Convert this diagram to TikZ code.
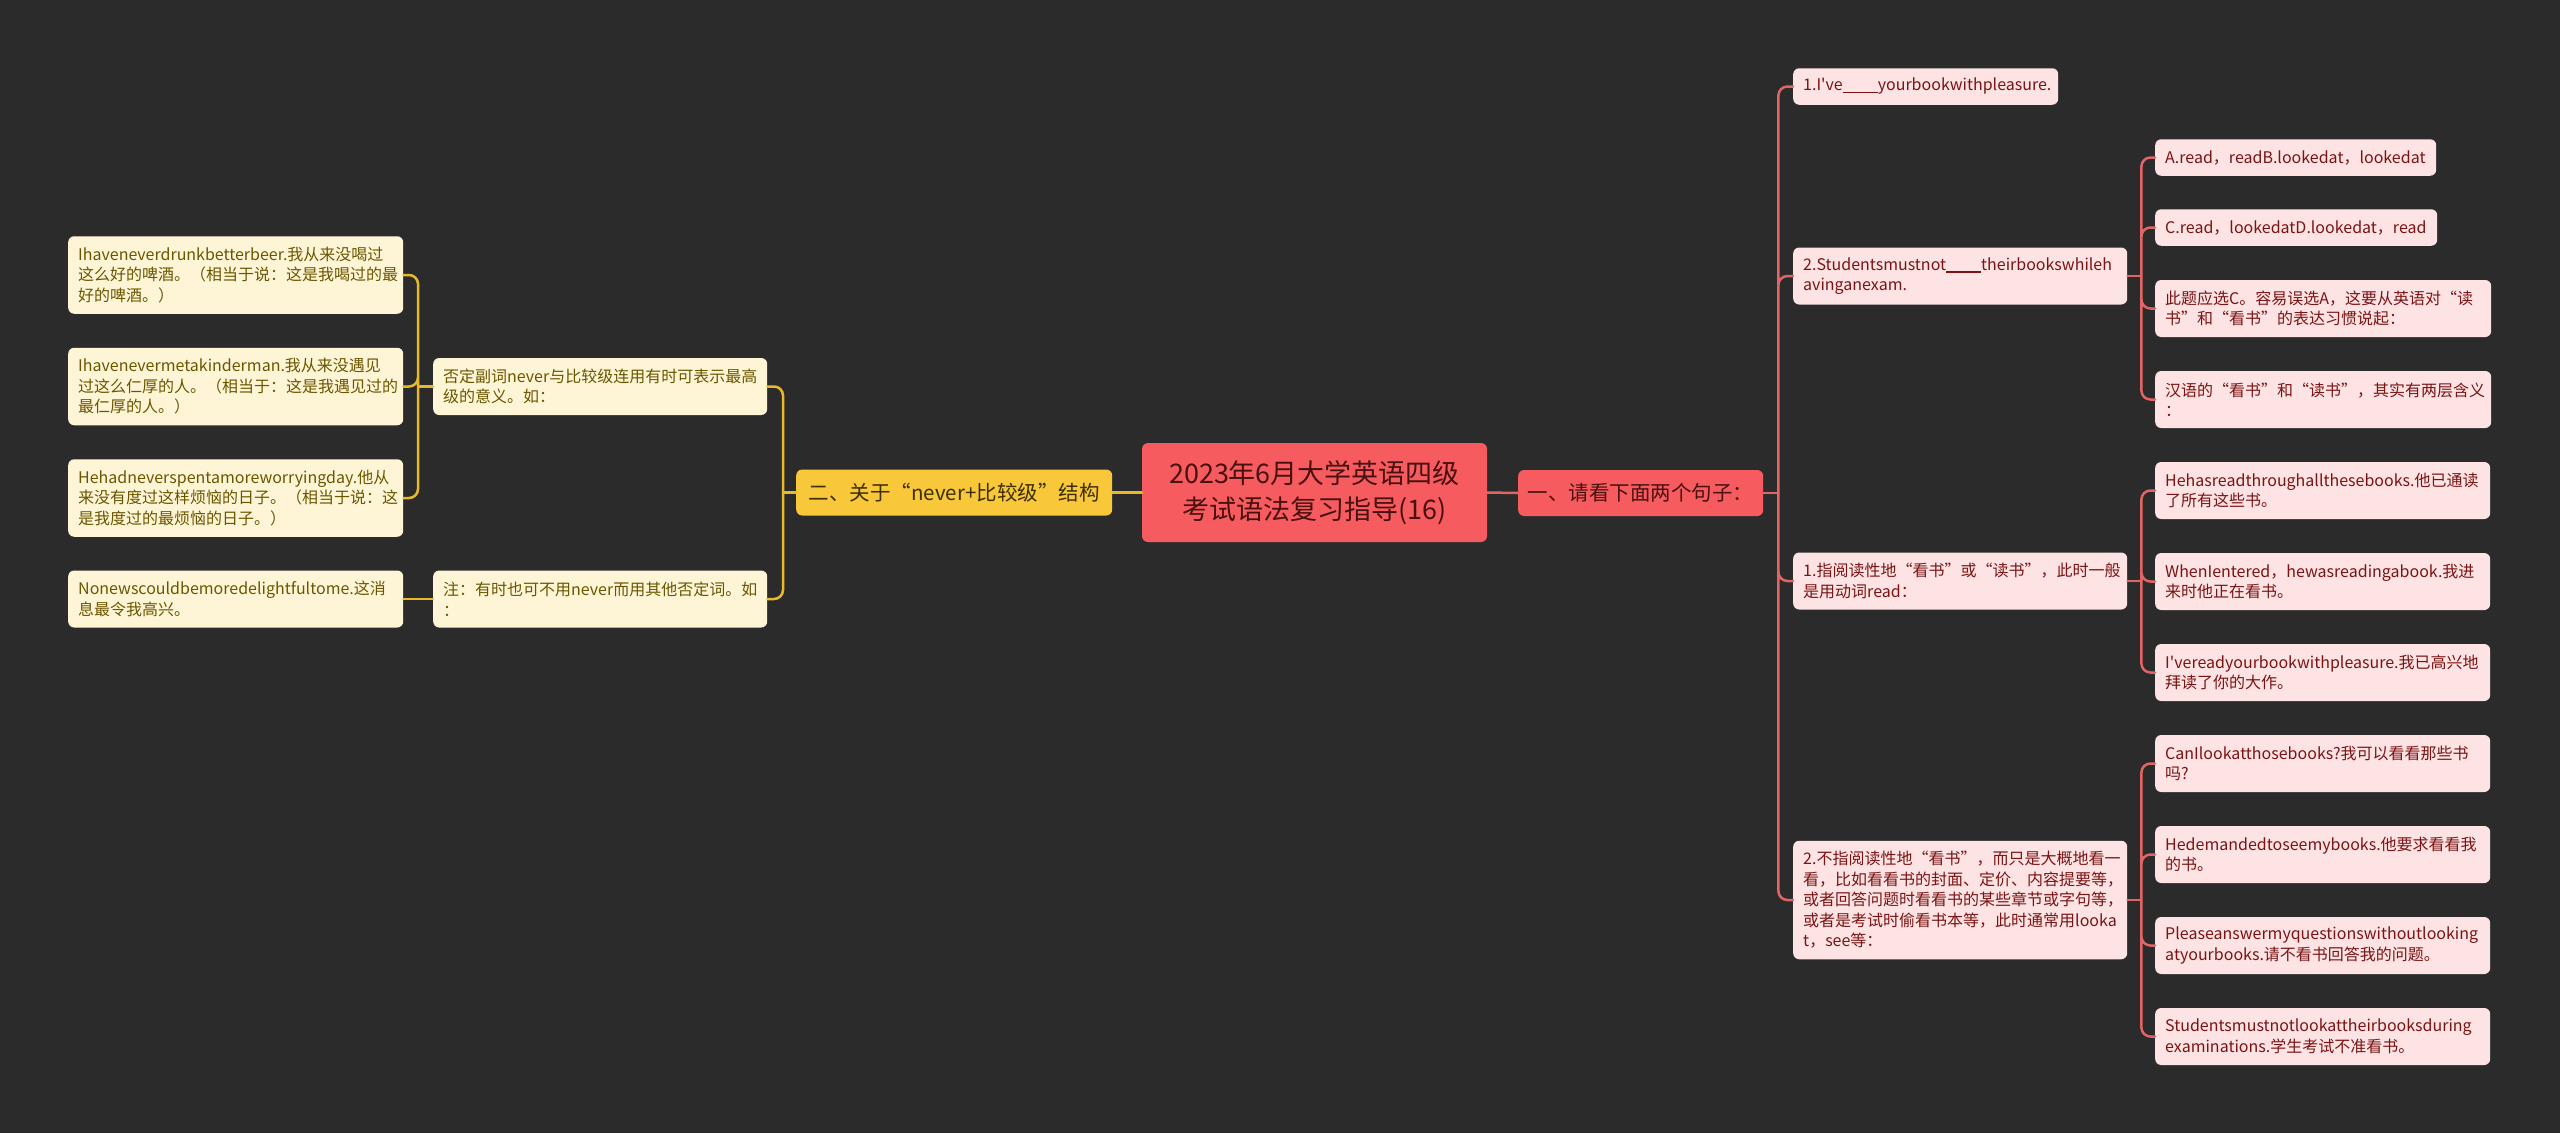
\documentclass[tikz,border=0pt]{standalone}
\usepackage{fontspec}
\setmainfont{Noto Sans CJK SC}[Ligatures=TeXOff]
\definecolor{bgdark}{HTML}{2B2B2B}
\definecolor{rootred}{HTML}{F65C5F}
\definecolor{rootink}{HTML}{4A1010}
\definecolor{pinkfill}{HTML}{FDE3E3}
\definecolor{pinkink}{HTML}{7A1414}
\definecolor{goldfill}{HTML}{F9C73A}
\definecolor{goldink}{HTML}{3B2F00}
\definecolor{creamfill}{HTML}{FEF5D6}
\definecolor{creamink}{HTML}{6B5600}
\definecolor{redline}{HTML}{E26465}
\definecolor{goldline}{HTML}{E8B92C}
\newcommand{\blank}{\rule[-2.5pt]{35pt}{1.2pt}}
\begin{document}
\begin{tikzpicture}[x=1pt, y=-1pt, line join=round, line cap=round,
	box/.style={rounded corners=6pt, anchor=west, align=left, inner xsep=10pt, inner ysep=3pt, font=\fontsize{16}{20.5}\selectfont},
	rows/.style={minimum height=#1*20.5pt+16pt},
	pinkbox/.style={box, fill=pinkfill, text=pinkink},
	creambox/.style={box, fill=creamfill, text=creamink},
	topic/.style={rounded corners=6pt, anchor=west, align=center, minimum height=46pt, font=\fontsize{20.5}{26}\selectfont},
	redlink/.style={draw=redline, line width=2.5pt, rounded corners=9pt},
	goldlink/.style={draw=goldline, line width=2.5pt, rounded corners=9pt}]
	\def\colA{68} \def\colB{433} \def\colC{1793} \def\colD{2155} % left edges
	\fill[bgdark] (0,0) rectangle (2560,1133);
	% centre
	\node[rounded corners=6pt, fill=rootred, text=rootink, align=center, minimum width=345pt, minimum height=99pt, font=\fontsize{27}{36}\selectfont] (root) at (1314.5,492.5) {2023年6月大学英语四级\\考试语法复习指导(16)};
	\node[topic, fill=rootred, text=rootink, minimum width=245pt] (one) at (1518,493) {一、请看下面两个句子：};
	\node[topic, fill=goldfill, text=goldink, minimum width=316pt] (two) at (796,492.5) {二、关于“never+比较级”结构};
	% right side
	\node[pinkbox, rows=1, text width=245pt] (q1) at (\colC,86.5) {1.I've\blank yourbookwithpleasure.};
	\node[pinkbox, rows=2, text width=314pt] (q2) at (\colC,276) {2.Studentsmustnot\blank theirbookswhileh\\avinganexam.};
	\node[pinkbox, rows=2, text width=314pt] (q3) at (\colC,581) {1.指阅读性地“看书”或“读书”，此时一般\\是用动词read：};
	\node[pinkbox, rows=5, text width=314pt] (q4) at (\colC,900) {2.不指阅读性地“看书”，而只是大概地看一\\看，比如看看书的封面、定价、内容提要等，\\或者回答问题时看看书的某些章节或字句等，\\或者是考试时偷看书本等，此时通常用looka\\t，see等：};
	\node[pinkbox, rows=1, text width=261pt] (ra) at (\colD,157.5) {A.read，readB.lookedat，lookedat};
	\node[pinkbox, rows=1, text width=262pt] (rb) at (\colD,227.5) {C.read，lookedatD.lookedat，read};
	\node[pinkbox, rows=2, text width=316pt] (rc) at (\colD,308.5) {此题应选C。容易误选A，这要从英语对“读\\书”和“看书”的表达习惯说起：};
	\node[pinkbox, rows=2, text width=316pt] (rd) at (\colD,399.5) {汉语的“看书”和“读书”，其实有两层含义\\：};
	\node[pinkbox, rows=2, text width=315pt] (re) at (\colD,490.5) {Hehasreadthroughallthesebooks.他已通读\\了所有这些书。};
	\node[pinkbox, rows=2, text width=315pt] (rf) at (\colD,581.5) {WhenIentered，hewasreadingabook.我进\\来时他正在看书。};
	\node[pinkbox, rows=2, text width=315pt] (rg) at (\colD,672.5) {I'vereadyourbookwithpleasure.我已高兴地\\拜读了你的大作。};
	\node[pinkbox, rows=2, text width=315pt] (rh) at (\colD,763.5) {CanIlookatthosebooks?我可以看看那些书\\吗?};
	\node[pinkbox, rows=2, text width=315pt] (ri) at (\colD,854.5) {Hedemandedtoseemybooks.他要求看看我\\的书。};
	\node[pinkbox, rows=2, text width=315pt] (rj) at (\colD,945.5) {Pleaseanswermyquestionswithoutlooking\\atyourbooks.请不看书回答我的问题。};
	\node[pinkbox, rows=2, text width=315pt] (rk) at (\colD,1036.5) {Studentsmustnotlookattheirbooksduring\\examinations.学生考试不准看书。};
	% left side
	\node[creambox, rows=2, text width=314pt] (p1) at (\colB,386.5) {否定副词never与比较级连用有时可表示最高\\级的意义。如：};
	\node[creambox, rows=2, text width=314pt] (p2) at (\colB,599) {注：有时也可不用never而用其他否定词。如\\：};
	\node[creambox, rows=3, text width=315pt] (s1) at (\colA,275) {Ihaveneverdrunkbetterbeer.我从来没喝过\\这么好的啤酒。（相当于说：这是我喝过的最\\好的啤酒。）};
	\node[creambox, rows=3, text width=315pt] (s2) at (\colA,386.5) {Ihavenevermetakinderman.我从来没遇见\\过这么仁厚的人。（相当于：这是我遇见过的\\最仁厚的人。）};
	\node[creambox, rows=3, text width=315pt] (s3) at (\colA,498) {Hehadneverspentamoreworryingday.他从\\来没有度过这样烦恼的日子。（相当于说：这\\是我度过的最烦恼的日子。）};
	\node[creambox, rows=2, text width=315pt] (s4) at (\colA,599) {Nonewscouldbemoredelightfultome.这消\\息最令我高兴。};
	% links
	\draw[redlink] (root.east) -- (one.west);
	\draw[goldlink] (root.west) -- (two.east);
	\draw[redlink] (one.east) -- ++(15,0) coordinate (oneS);
	\draw[redlink] (oneS) |- (q1.west) (oneS) |- (q2.west) (oneS) |- (q3.west) (oneS) |- (q4.west);
	\draw[redlink] (q2.east) -- ++(14,0) coordinate (q2S);
	\draw[redlink] (q2S) |- (ra.west) (q2S) |- (rb.west) (q2S) |- (rc.west) (q2S) |- (rd.west);
	\draw[redlink] (q3.east) -- ++(14,0) coordinate (q3S);
	\draw[redlink] (q3S) |- (re.west) (q3S) |- (rf.west) (q3S) |- (rg.west);
	\draw[redlink] (q4.east) -- ++(14,0) coordinate (q4S);
	\draw[redlink] (q4S) |- (rh.west) (q4S) |- (ri.west) (q4S) |- (rj.west) (q4S) |- (rk.west);
	\draw[goldlink] (two.west) -- ++(-13,0) coordinate (twoS);
	\draw[goldlink] (twoS) |- (p1.east) (twoS) |- (p2.east);
	\draw[goldlink] (p1.west) -- ++(-15,0) coordinate (p1S);
	\draw[goldlink] (p1S) |- (s1.east) (p1S) |- (s2.east) (p1S) |- (s3.east);
	\draw[goldlink] (p2.west) -- (s4.east);
\end{tikzpicture}
\end{document}
